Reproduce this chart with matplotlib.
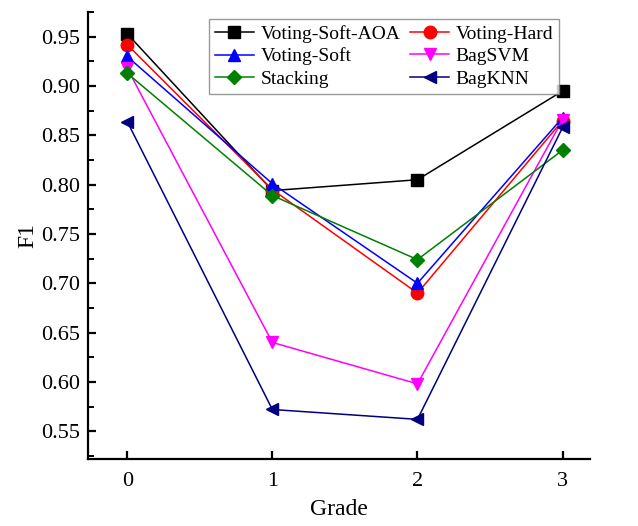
import matplotlib.pyplot as plt
from matplotlib.ticker import MultipleLocator

plt.rcParams['font.family'] = ['Liberation Serif', 'DejaVu Serif']

grade = [0, 1, 2, 3]
voting_soft_aoa = [0.953, 0.794, 0.805, 0.895]
voting_hard = [0.942, 0.795, 0.690, 0.865]
voting_soft = [0.930, 0.801, 0.700, 0.868]
bag_svm = [0.918, 0.640, 0.598, 0.866]
stacking = [0.913, 0.789, 0.724, 0.835]
bag_knn = [0.864, 0.572, 0.562, 0.858]

fig = plt.figure(figsize=(6.38, 5.26), dpi=100)
ax = fig.add_axes([0.138, 0.127, 0.787, 0.85])

l1, = ax.plot(grade, voting_soft_aoa, color='black', marker='s', ms=8, lw=1.1, label='Voting-Soft-AOA')
l2, = ax.plot(grade, voting_hard, color='red', marker='o', ms=9, lw=1.1, label='Voting-Hard')
l3, = ax.plot(grade, voting_soft, color='blue', marker='^', ms=9, lw=1.1, label='Voting-Soft')
l4, = ax.plot(grade, bag_svm, color='magenta', marker='v', ms=9, lw=1.1, label='BagSVM')
l5, = ax.plot(grade, stacking, color='green', marker='D', ms=7, lw=1.1, label='Stacking')
l6, = ax.plot(grade, bag_knn, color='navy', marker='<', ms=9, lw=1.1, label='BagKNN')

ax.set_xlim(-0.27, 3.19)
ax.set_ylim(0.5216, 0.975)
ax.set_xticks(grade)
ax.yaxis.set_major_locator(MultipleLocator(0.05))
ax.yaxis.set_minor_locator(MultipleLocator(0.025))
ax.yaxis.set_major_formatter(plt.FormatStrFormatter('%.2f'))

ax.spines['top'].set_visible(False)
ax.spines['right'].set_visible(False)
ax.spines['left'].set_linewidth(1.6)
ax.spines['bottom'].set_linewidth(1.6)
ax.tick_params(axis='both', which='major', direction='in', length=6, width=1.6, labelsize=16)
ax.tick_params(axis='y', which='major', pad=6)
ax.tick_params(axis='x', which='major', pad=9)
ax.tick_params(axis='y', which='minor', direction='in', length=4, width=1.4)

ax.set_xlabel('Grade', fontsize=17, labelpad=6)
ax.set_ylabel('F1', fontsize=17, labelpad=2)

# row-wise legend order like the original
handles = [l1, l3, l5, l2, l4, l6]
leg = ax.legend(handles=handles, ncol=2, loc='upper left', bbox_to_anchor=(209 / 638, 1 - 19 / 526),
                bbox_transform=fig.transFigure, borderaxespad=0, fontsize=14,
                fancybox=False, edgecolor='gray', handlelength=2.0, columnspacing=0.5,
                handletextpad=0.35, borderpad=0.3, labelspacing=0.25)
leg.get_frame().set_linewidth(1.0)

fig.savefig('out.png', dpi=100)
